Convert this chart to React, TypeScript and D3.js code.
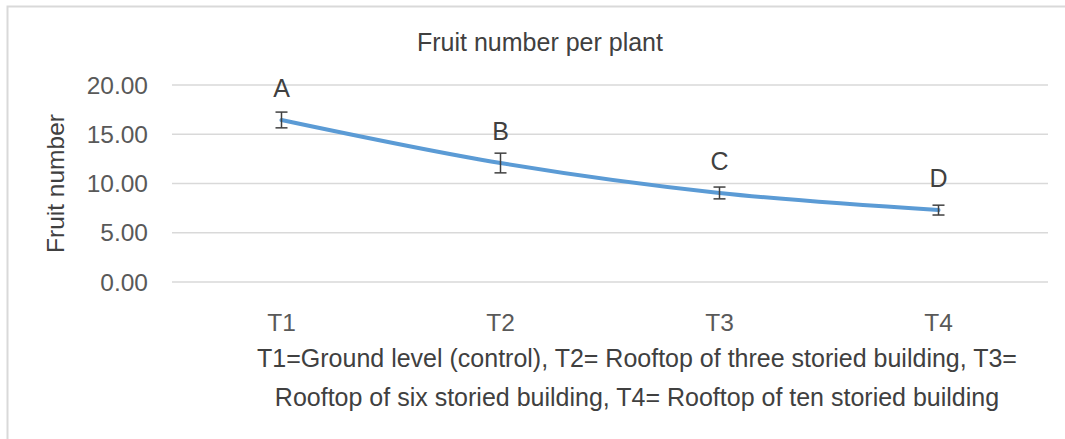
import React, { useEffect, useRef } from 'react';
import * as d3 from 'd3';

const categories = ['T1', 'T2', 'T3', 'T4'];
const values = [16.45, 12.08, 9.04, 7.3];
const errors = [0.8, 1.0, 0.6, 0.5];
const letters = ['A', 'B', 'C', 'D'];
const yTicks = [0, 5, 10, 15, 20];
const chartTitle = 'Fruit number per plant';
const yTitle = 'Fruit number';
const footnote = [
  'T1=Ground level (control), T2= Rooftop of three storied building, T3=',
  'Rooftop of six storied building, T4= Rooftop of ten storied building',
];

const W = 1065;
const H = 439;
const FONT = '"Liberation Sans", Arial, sans-serif';

function App() {
  const ref = useRef<SVGSVGElement>(null);

  useEffect(() => {
    const svg = d3.select(ref.current);
    svg.selectAll('*').remove();

    const left = 172;
    const right = 1048;
    const top = 85;
    const bottom = 282;

    const x = d3.scalePoint<string>().domain(categories).range([left, right]).padding(0.5);
    const y = d3.scaleLinear().domain([0, 20]).range([bottom, top]);

    // outer frame (right and bottom edges fall outside the picture)
    svg.append('rect')
      .attr('x', 7.5).attr('y', 6.5)
      .attr('width', W + 20).attr('height', H + 20)
      .attr('fill', 'white')
      .attr('stroke', '#d9d9d9')
      .attr('stroke-width', 2);

    // gridlines
    svg.append('g')
      .selectAll('line')
      .data(yTicks)
      .join('line')
      .attr('x1', left).attr('x2', right)
      .attr('y1', (d) => y(d)).attr('y2', (d) => y(d))
      .attr('stroke', '#d9d9d9')
      .attr('stroke-width', 1.5);

    // y axis labels
    svg.append('g')
      .selectAll('text')
      .data(yTicks)
      .join('text')
      .attr('x', left - 24)
      .attr('y', (d) => y(d))
      .attr('dy', '0.35em')
      .attr('text-anchor', 'end')
      .attr('font-family', FONT)
      .attr('font-size', 24.5)
      .attr('fill', '#595959')
      .text((d) => d.toFixed(2));

    // x axis labels
    svg.append('g')
      .selectAll('text')
      .data(categories)
      .join('text')
      .attr('x', (d) => x(d)!)
      .attr('y', 331)
      .attr('text-anchor', 'middle')
      .attr('font-family', FONT)
      .attr('font-size', 24.5)
      .attr('fill', '#595959')
      .text((d) => d);

    // title
    svg.append('text')
      .attr('x', 540).attr('y', 51)
      .attr('text-anchor', 'middle')
      .attr('font-family', FONT)
      .attr('font-size', 25)
      .attr('fill', '#404040')
      .text(chartTitle);

    // y title
    svg.append('text')
      .attr('transform', `translate(64,${(top + bottom) / 2}) rotate(-90)`)
      .attr('text-anchor', 'middle')
      .attr('font-family', FONT)
      .attr('font-size', 24.5)
      .attr('fill', '#404040')
      .text(yTitle);

    // footnote
    svg.append('g')
      .selectAll('text')
      .data(footnote)
      .join('text')
      .attr('x', 637)
      .attr('y', (_d, i) => 367 + i * 39)
      .attr('text-anchor', 'middle')
      .attr('font-family', FONT)
      .attr('font-size', 25)
      .attr('fill', '#404040')
      .text((d) => d);

    const pts = categories.map((c, i) => ({ c, v: values[i], e: errors[i], l: letters[i] }));

    // line
    const line = d3
      .line<{ c: string; v: number }>()
      .x((d) => x(d.c)!)
      .y((d) => y(d.v))
      .curve(d3.curveCatmullRom.alpha(0.5));

    svg.append('path')
      .datum(pts)
      .attr('fill', 'none')
      .attr('stroke', '#5b9bd5')
      .attr('stroke-width', 4)
      .attr('stroke-linecap', 'round')
      .attr('d', line);

    // error bars
    const eb = svg.append('g')
      .attr('stroke', '#404040')
      .attr('stroke-width', 1.5);
    pts.forEach((d) => {
      const cx = x(d.c)!;
      eb.append('line')
        .attr('x1', cx).attr('x2', cx)
        .attr('y1', y(d.v - d.e)).attr('y2', y(d.v + d.e));
      [d.v - d.e, d.v + d.e].forEach((v) => {
        eb.append('line')
          .attr('x1', cx - 6).attr('x2', cx + 6)
          .attr('y1', y(v)).attr('y2', y(v));
      });
    });

    // letters
    svg.append('g')
      .selectAll('text')
      .data(pts)
      .join('text')
      .attr('x', (d) => x(d.c)!)
      .attr('y', (d) => y(d.v) - 23)
      .attr('text-anchor', 'middle')
      .attr('font-family', FONT)
      .attr('font-size', 25)
      .attr('fill', '#404040')
      .text((d) => d.l);
  }, []);

  return (
    <svg
      ref={ref}
      width={W}
      height={H}
      style={{ position: 'fixed', top: 0, left: 0, background: 'white' }}
    />
  );
}

export default App;
